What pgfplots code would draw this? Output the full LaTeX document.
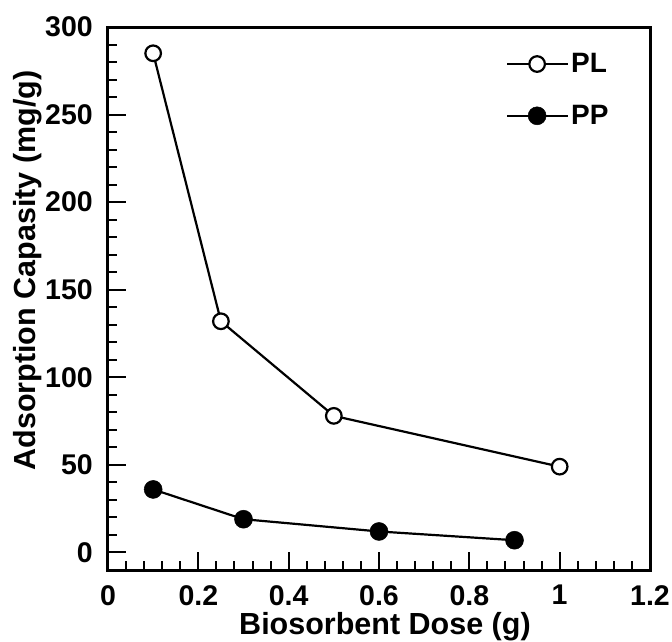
\documentclass[border=0pt]{standalone}
\usepackage{pgfplots}
\pgfplotsset{compat=1.18}
\usepackage{fontspec}
\setmainfont{Liberation Sans}
\begin{document}
\begin{tikzpicture}
\useasboundingbox (-108pt,-71pt) rectangle (564pt,570pt);
\begin{axis}[
  at={(0,0)}, anchor=south west,
  scale only axis,
  width=542pt, height=543pt,
  xmin=0, xmax=1.2, ymin=-10, ymax=300,
  xtick={0,0.2,0.4,0.6,0.8,1,1.2},
  ytick={0,50,100,150,200,250,300},
  minor x tick num=4,
  minor y tick num=4,
  tick pos=left,
  tick align=inside,
  major tick length=18pt,
  minor tick length=9pt,
  every tick/.style={black, line width=2pt},
  axis line style={line width=3pt},
  /pgf/number format/assume math mode=true,
  tick label style={font=\fontsize{28.5}{30}\selectfont\bfseries, inner sep=0pt},
  xticklabel style={anchor=north, yshift=-15pt},
  yticklabel style={anchor=east, xshift=-15pt},
  xlabel={Biosorbent Dose (g)},
  ylabel={Adsorption Capasity (mg/g)},
  label style={font=\fontsize{30.5}{32}\selectfont\bfseries, inner sep=0pt},
  xlabel style={at={(axis description cs:0.511,-0.0785)}, anchor=north},
  ylabel style={at={(axis description cs:-0.1753,0.5516)}, rotate=0, anchor=north},
  legend style={draw=none, fill=none, at={(0.734,0.955)}, anchor=north west,
    font=\fontsize{28}{30}\selectfont\bfseries, inner sep=0pt,
    row sep=27pt},
  legend cell align=left,
  legend image code/.code={\draw[mark repeat=2,mark phase=2] plot coordinates {(0pt,0pt) (30pt,0pt) (61pt,0pt)};},
  clip=false,
]
\addplot[black, line width=2.2pt, mark=*, mark size=7.8pt, mark options={fill=white, line width=2.2pt}]
  coordinates {(0.1,285) (0.25,132) (0.5,78) (1,49)};
\addlegendentry{PL}
\addplot[black, line width=2.2pt, mark=*, mark size=9pt, mark options={fill=black, line width=0.5pt}]
  coordinates {(0.1,36) (0.3,19) (0.6,12) (0.9,7)};
\addlegendentry{PP}
\end{axis}
\end{tikzpicture}
\end{document}
